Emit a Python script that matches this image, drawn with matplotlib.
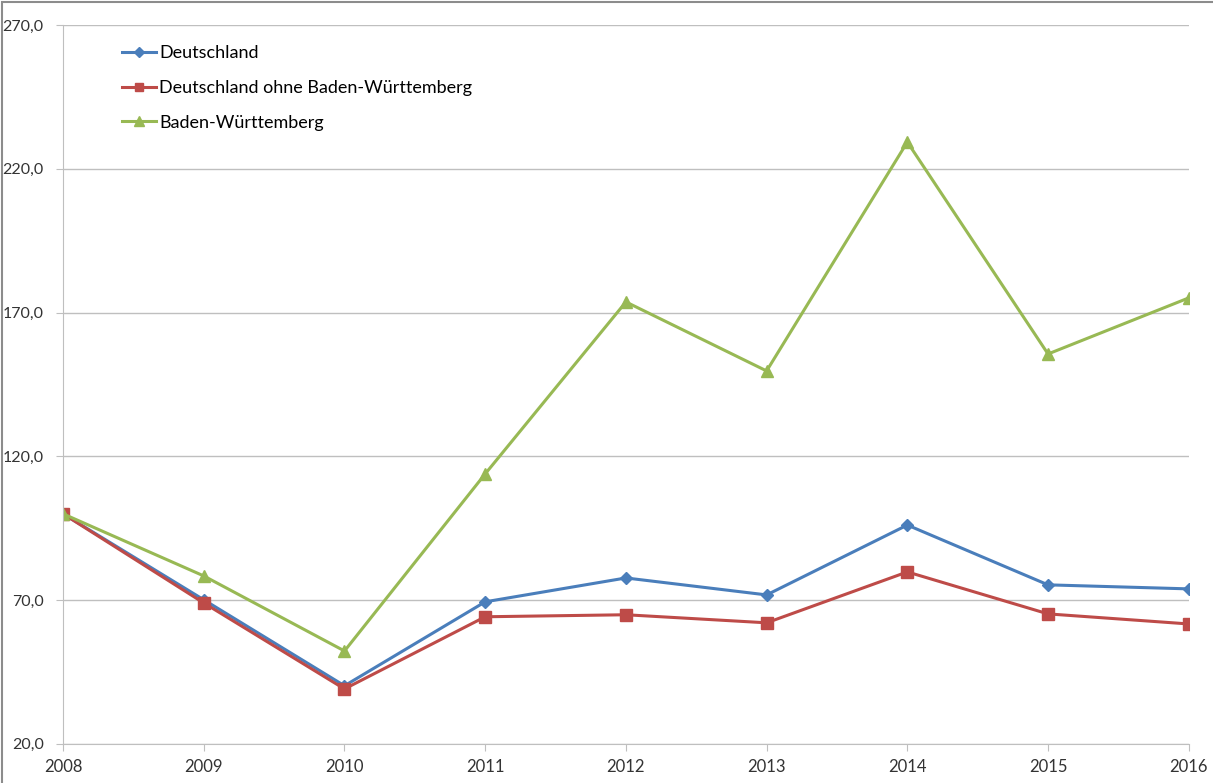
import matplotlib.pyplot as plt
import matplotlib.patches as mpatches

years = [2008, 2009, 2010, 2011, 2012, 2013, 2014, 2015, 2016]
deutschland = [100.0, 70.1, 40.2, 69.4, 77.7, 71.8, 96.1, 75.3, 73.9]
ohne_bw = [100.0, 69.0, 39.1, 64.2, 64.9, 62.1, 79.8, 65.2, 61.7]
bw = [100.0, 78.4, 52.3, 113.9, 173.7, 149.7, 229.3, 155.6, 175.1]
yticks = [20, 70, 120, 170, 220, 270]

plt.rcParams['font.family'] = ['Lato', 'DejaVu Sans']

fig = plt.figure(figsize=(12.13, 7.83), dpi=100)
ax = fig.add_axes([0.052, 0.05, 0.928, 0.918])

# outer chart frame (top and left visible)
fig.patches.append(mpatches.Rectangle((0.002, -0.01), 1.2, 1.008, transform=fig.transFigure,
                                      fill=False, edgecolor='#8c8c8c', linewidth=1.5))

ax.plot(years, deutschland, color='#4a7ebb', lw=2.2, marker='D', ms=6, label='Deutschland')
ax.plot(years, ohne_bw, color='#be4b48', lw=2.2, marker='s', ms=8, label='Deutschland ohne Baden-Württemberg')
ax.plot(years, bw, color='#98b954', lw=2.2, marker='^', ms=9, label='Baden-Württemberg')

ax.set_xlim(2008, 2016)
ax.set_ylim(20, 270)
ax.set_xticks(years)
ax.set_yticks(yticks)
ax.set_yticklabels([f'{v:.1f}'.replace('.', ',') for v in yticks])
ax.yaxis.grid(True, color='#bfbfbf', lw=1)
ax.set_axisbelow(True)

for s in ['top', 'right']:
    ax.spines[s].set_visible(False)
for s in ['left', 'bottom']:
    ax.spines[s].set_color('#bfbfbf')
ax.tick_params(axis='y', length=5, color='#bfbfbf', labelsize=11.5, colors='#333333', pad=9)
ax.tick_params(axis='x', length=5, color='#bfbfbf', labelsize=12, colors='#333333', pad=6)

ax.legend(loc='upper left', bbox_to_anchor=(0.038, 0.995), frameon=False, fontsize=13,
          handlelength=1.9, handletextpad=0.15, labelspacing=1.05, markerscale=0.8)

fig.savefig('out.png', dpi=100)
